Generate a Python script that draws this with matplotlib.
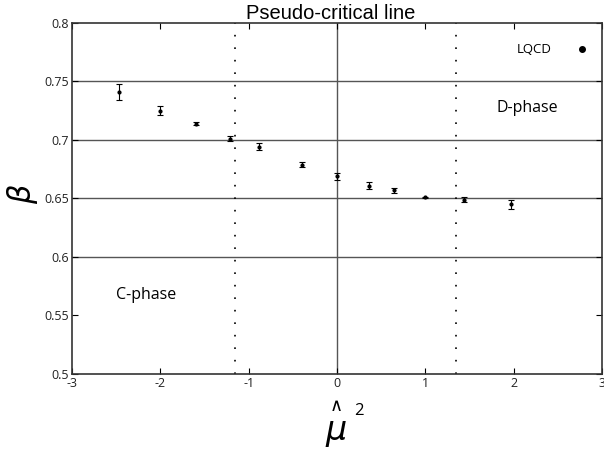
import matplotlib
matplotlib.use("Agg")
import matplotlib.pyplot as plt

plt.rcParams['font.family'] = ['Open Sans', 'DejaVu Sans']

# pseudo-critical beta vs mu-hat squared
mu2 = [-2.47, -2.0, -1.59, -1.21, -0.88, -0.40, 0.0, 0.36, 0.65, 1.0, 1.44, 1.97]
beta = [0.741, 0.725, 0.714, 0.701, 0.694, 0.679, 0.669, 0.661, 0.657, 0.651, 0.649, 0.645]
beta_err = [0.007, 0.004, 0.0015, 0.002, 0.003, 0.002, 0.003, 0.003, 0.002, 0.0005, 0.002, 0.004]

phase_bounds = [-1.15, 1.35]
grid_y = [0.6, 0.65, 0.7, 0.75]
xticks = [-3, -2, -1, 0, 1, 2, 3]
yticks = [0.5, 0.55, 0.6, 0.65, 0.7, 0.75, 0.8]

fig = plt.figure(figsize=(6.04, 4.51), dpi=100)
ax = fig.add_axes([0.119, 0.171, 0.878, 0.778])

ax.set_xlim(-3, 3)
ax.set_ylim(0.5, 0.8)

for gy in grid_y:
    ax.axhline(gy, color='#555555', lw=1.0, zorder=1)
ax.axvline(0, color='#555555', lw=1.0, zorder=1)
for xb in phase_bounds:
    ax.axvline(xb, color='black', lw=1.2, ls=(0, (1, 6.5)), zorder=1)

ax.errorbar(mu2, beta, yerr=beta_err, fmt='o', ms=2, color='black',
            ecolor='black', elinewidth=0.8, capsize=2.5, capthick=0.8, zorder=3)

ax.set_xticks(xticks)
ax.set_yticks(yticks)
ax.set_xticklabels(['-3', '-2', '-1', '0', '1', '2', '3'])
ax.set_yticklabels(['0.5', '0.55', '0.6', '0.65', '0.7', '0.75', '0.8'])
ax.tick_params(direction='in', length=4, width=0.8, labelsize=9,
               labelcolor='#222222', top=True, right=True, pad=2)
for s in ax.spines.values():
    s.set_linewidth(1.2)
    s.set_color('#333333')

fig.text(0.548, 0.958, 'Pseudo-critical line', fontsize=14.5,
         family=['Liberation Sans', 'DejaVu Sans'], ha='center', va='baseline')

ax.text(-2.50, 0.5675, 'C-phase', fontsize=11.5, va='center')
ax.text(1.80, 0.727, 'D-phase', fontsize=11.5, va='center')
ax.text(2.03, 0.777, 'LQCD', fontsize=9.5, va='center')
ax.plot([2.77], [0.778], 'o', ms=4, color='black', clip_on=False)

fig.text(0.037, 0.57, r'$\beta$', fontsize=22, rotation=90, ha='center', va='center')

# x-axis label: mu with a wide hat and a superscript 2
fig.text(0.557, 0.042, r'$\mu$', fontsize=24, ha='center', va='center')
fig.text(0.557, 0.1, '\u2227', fontsize=13, ha='center', va='center',
         family=['DejaVu Sans'])
fig.text(0.594, 0.088, '2', fontsize=12, ha='center', va='center')

fig.savefig('out.png', dpi=100)
